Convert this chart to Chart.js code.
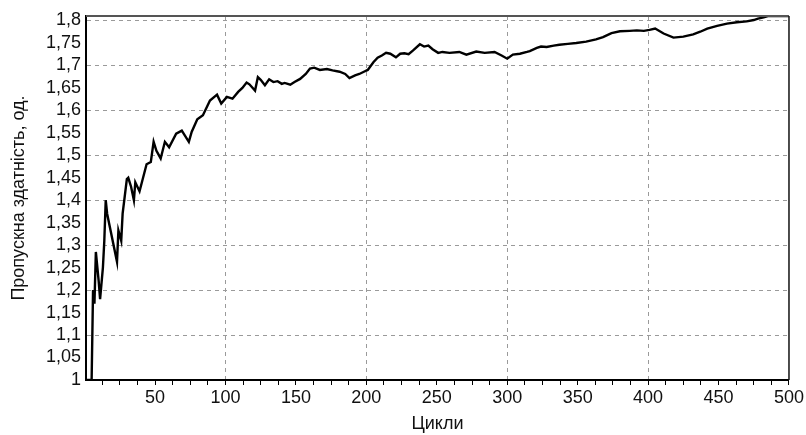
<!DOCTYPE html>
<html>
<head>
<meta charset="utf-8">
<script src="https://cdn.jsdelivr.net/npm/chart.js@4"></script>
<style>
    body { margin: 0; background: #fff; }
</style>
</head>
<body>
<canvas id="chart" width="806" height="435"></canvas>
<script>
// Cycles
const cycles = [
    1, 5, 6, 7, 8, 10, 11, 13, 14, 15, 16, 23, 24, 26, 27, 30, 31, 33, 35, 36,
    39, 41, 44, 47, 49, 51, 54, 57, 60, 65, 69, 74, 76, 80, 84, 89, 94, 97, 101, 105,
    109, 112, 115, 117, 121, 123, 125, 128, 131, 134, 137, 140, 142, 146, 149, 153, 157, 160, 163, 167,
    172, 176, 181, 185, 188, 192, 195, 199, 201, 205, 208, 211, 214, 217, 221, 224, 227, 230, 233, 238,
    241, 244, 247, 251, 254, 259, 266, 271, 278, 284, 291, 296, 300, 304, 309, 314, 316, 321, 324, 328,
    333, 337, 343, 349, 356, 363, 368, 374, 380, 387, 392, 397, 401, 405, 411, 418, 425, 432, 437, 442,
    449, 456, 463, 470, 475, 478, 482, 485, 500
];

// Throughput values
const throughput = [
    1.0, 1.0, 1.2, 1.17, 1.285, 1.22, 1.18, 1.25, 1.31, 1.4, 1.37, 1.263, 1.333, 1.31, 1.37, 1.447, 1.45, 1.43, 1.40, 1.44,
    1.42, 1.444, 1.48, 1.485, 1.53, 1.51, 1.493, 1.53, 1.518, 1.548, 1.555, 1.53, 1.552, 1.58, 1.589, 1.622, 1.635, 1.615, 1.63, 1.626,
    1.641, 1.65, 1.662, 1.658, 1.644, 1.674, 1.668, 1.656, 1.669, 1.663, 1.665, 1.659, 1.661, 1.657, 1.663, 1.67, 1.681, 1.693, 1.695, 1.69,
    1.692, 1.689, 1.686, 1.681, 1.672, 1.678, 1.681, 1.687, 1.69, 1.707, 1.717, 1.722, 1.728, 1.726, 1.718, 1.726, 1.727, 1.725, 1.733, 1.747,
    1.742, 1.744, 1.736, 1.728, 1.73, 1.728, 1.73, 1.724, 1.731, 1.728, 1.73, 1.722, 1.715, 1.724, 1.726, 1.73, 1.732, 1.739, 1.742, 1.741,
    1.744, 1.746, 1.748, 1.75, 1.753, 1.758, 1.763, 1.772, 1.776, 1.777, 1.778, 1.777, 1.779, 1.782, 1.771, 1.762, 1.764, 1.769, 1.775, 1.782,
    1.788, 1.793, 1.796, 1.798, 1.801, 1.804, 1.807, 1.81, 1.81
];

// Tick labels
const xMajorTicks = [50, 100, 150, 200, 250, 300, 350, 400, 450, 500];
const yTicks = [1, 1.05, 1.1, 1.15, 1.2, 1.25, 1.3, 1.35, 1.4, 1.45, 1.5, 1.55, 1.6, 1.65, 1.7, 1.75, 1.8];

const xTitle = "Цикли";
const yTitle = "Пропускна здатність, од.";

// Minor tick marks every quarter of a major step
let xTicksAll = [];
for (let v = 12.5; v <= 500; v += 12.5) {
    xTicksAll.push(v);
}

const points = cycles.map((c, i) => ({ x: c, y: throughput[i] }));

const fontFamily = "'Liberation Sans', Arial, sans-serif";
const textColor = "#111";
const gridColor = "#9a9a9a";

// Top and right frame lines
const framePlugin = {
    id: "frame",
    afterDatasetsDraw(chart) {
        const { ctx, chartArea } = chart;
        ctx.save();
        ctx.strokeStyle = "#555";
        ctx.lineWidth = 2;
        ctx.beginPath();
        ctx.moveTo(chartArea.left, chartArea.top);
        ctx.lineTo(chartArea.right, chartArea.top);
        ctx.stroke();
        ctx.strokeStyle = "#111";
        ctx.lineWidth = 1.5;
        ctx.beginPath();
        ctx.moveTo(chartArea.right, chartArea.top);
        ctx.lineTo(chartArea.right, chartArea.bottom);
        ctx.stroke();
        ctx.restore();
    }
};

new Chart(document.getElementById("chart"), {
    type: "line",
    data: {
        datasets: [{
            data: points,
            borderColor: "#000",
            borderWidth: 2.4,
            pointRadius: 0,
            tension: 0,
            fill: false
        }]
    },
    options: {
        responsive: false,
        animation: false,
        devicePixelRatio: 1,
        layout: {
            padding: { top: 16, right: 17, left: 0, bottom: 0 }
        },
        plugins: {
            legend: { display: false },
            tooltip: { enabled: false }
        },
        scales: {
            x: {
                type: "linear",
                min: 1,
                max: 500,
                afterBuildTicks: (scale) => {
                    scale.ticks = xTicksAll.map((v) => ({ value: v }));
                },
                afterFit: (scale) => {
                    scale.height = 55;
                },
                ticks: {
                    autoSkip: false,
                    maxRotation: 0,
                    padding: 2,
                    color: textColor,
                    font: { family: fontFamily, size: 18 },
                    callback: (v) => xMajorTicks.includes(v) ? String(v) : ""
                },
                grid: {
                    color: (ctx) => (ctx.tick && ctx.tick.value % 100 === 0 && ctx.tick.value < 500) ? gridColor : "transparent",
                    lineWidth: 1,
                    drawTicks: true,
                    tickLength: 5,
                    tickColor: "#000",
                    tickWidth: 1
                },
                border: {
                    color: "#000",
                    width: 2,
                    dash: [4, 4]
                },
                title: {
                    display: true,
                    text: xTitle,
                    color: textColor,
                    font: { family: fontFamily, size: 18 },
                    padding: { top: 0, bottom: 0 }
                }
            },
            y: {
                min: 1,
                max: 1.81,
                afterBuildTicks: (scale) => {
                    scale.ticks = yTicks.map((v) => ({ value: v }));
                },
                afterFit: (scale) => {
                    scale.width = 86;
                },
                ticks: {
                    autoSkip: false,
                    padding: 5,
                    color: textColor,
                    font: { family: fontFamily, size: 18 },
                    callback: (v) => String(v).replace(".", ",")
                },
                grid: {
                    color: (ctx) => {
                        if (!ctx.tick) return "transparent";
                        const v = Math.round(ctx.tick.value * 100);
                        return (v % 10 === 0 && v > 100) ? gridColor : "transparent";
                    },
                    lineWidth: 1,
                    drawTicks: false
                },
                border: {
                    color: "#000",
                    width: 2,
                    dash: [4, 4]
                },
                title: {
                    display: true,
                    text: yTitle,
                    color: textColor,
                    font: { family: fontFamily, size: 18 },
                    padding: { top: 8, bottom: 0 }
                }
            }
        }
    },
    plugins: [framePlugin]
});
</script>
</body>
</html>
